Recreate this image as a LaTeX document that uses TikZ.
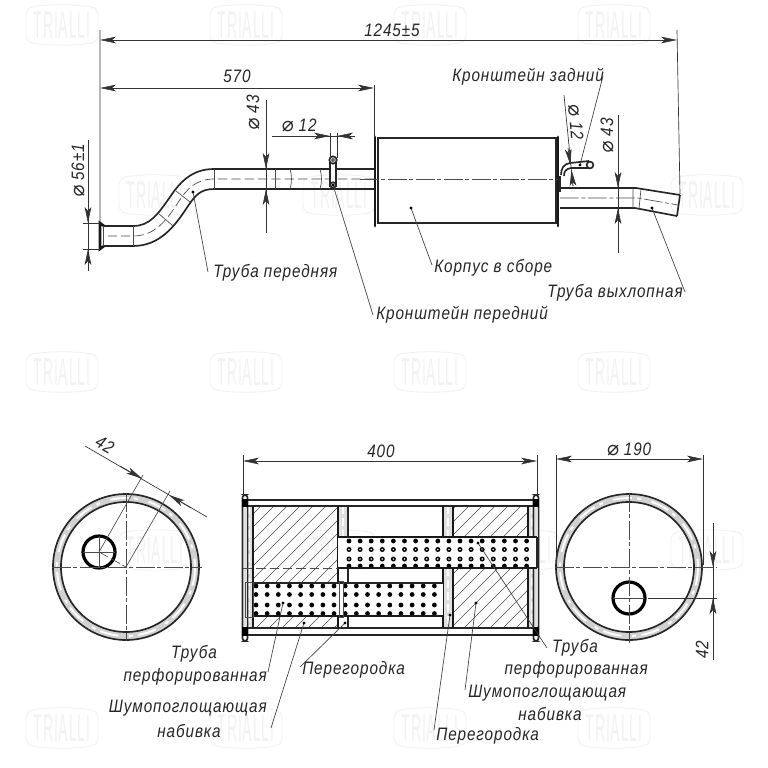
\documentclass[tikz,border=0pt]{standalone}
\usepackage{fontspec}
\setmainfont{Liberation Sans}[LetterSpace=5,FakeStretch=0.85]
\newfontfamily\symf{DejaVu Sans}
\usetikzlibrary{arrows.meta}
\newcommand{\dia}{{\fontsize{15}{15}\selectfont\symf\char"2300}}
\tikzset{
  thickl/.style={line width=1.25pt,black!85},
  thinl/.style={line width=.5pt,black!70},
  heavy/.style={line width=1.9pt,black!90},
  cline/.style={line width=.5pt,black!70,dash pattern=on 14pt off 2pt on 3pt off 2pt},
  dashl/.style={line width=.5pt,black!70,dash pattern=on 7pt off 3pt},
  dimln/.style={line width=.5pt,black!80},
  tip/.style={-{Stealth[length=12pt,width=5pt,inset=3pt]}},
  tipb/.style={{Stealth[length=12pt,width=5pt,inset=3pt]}-{Stealth[length=12pt,width=5pt,inset=3pt]}},
  lbl/.style={font=\itshape\fontsize{13.5}{15}\selectfont,text=black!85,inner sep=0pt},
  lead/.style={line width=.5pt,black!75},
  dotm/.style={fill=black,radius=1.7},
  wmtxt/.style={font=\fontsize{20}{20}\selectfont,text=black!5,xscale=.62,yscale=1.45,inner sep=0pt},
  hatchl/.style={line width=.45pt,black!70},
}
\begin{document}
\begin{tikzpicture}[x=.75pt,y=-.75pt]
\useasboundingbox (0,0) rectangle (768,768);
\fill[white] (0,0) rectangle (768,768);
% watermarks
\foreach \wx/\wy [count=\wi] in {62/25,246/25,430/25,614/25,155/195,339/195,523/195,707/195,62/372,246/372,430/372,614/372,155/550,339/550,523/550,707/550,62/728,246/728,430/728,614/728}{
  \node[wmtxt] (wm\wi) at (\wx,\wy) {TRIALLI};
  \draw[black!5,line width=.7pt,rounded corners=5pt] (\wx-36,\wy-17) .. controls (\wx-12,\wy-21) and (\wx+12,\wy-21) .. (\wx+36,\wy-17) -- (\wx+36,\wy+17) .. controls (\wx+12,\wy+21) and (\wx-12,\wy+21) .. (\wx-36,\wy+17) -- cycle;
}
% ---------- top view ----------
% front pipe
\draw[thickl] (374,169) -- (214,169) .. controls (192,169) and (180,182) .. (170,197) .. controls (158,214) and (150,226) .. (133,226) -- (103,226);
\draw[thickl] (374,189) -- (214,189) .. controls (200,189) and (195,196) .. (188,206) .. controls (175,226) and (160,246) .. (133,246) -- (103,246);
\draw[dashl] (374,179) -- (214,179) .. controls (196,179) and (187,189) .. (179,201) .. controls (167,220) and (155,236) .. (133,236) -- (103,236);
\draw[heavy] (104,226) -- (100,223) -- (100,249) -- (104,246);
\draw[thinl] (103,226) -- (103,246);
\foreach \tx in {214,275}{\draw[thinl] (\tx,169) -- (\tx,189);}
\draw[thinl] (133,226) -- (133,246);
\draw[thinl] (176,191) -- (190,202) (158,213) -- (173,226);
\draw[thinl] (290,169) .. controls (292,175) and (292,183) .. (290,189);
\draw[thinl] (320,169) .. controls (322,175) and (322,183) .. (320,189);
% front bracket
\draw[thickl,fill=white] (330,162) rectangle (336,186);
\draw[thickl,fill=white] (333,160) circle (3.7);
\fill[black!60] (333,160) circle (2);
\draw[thickl,fill=white] (333,185) circle (2.8);
% body
\draw[thickl,fill=white] (378,138) rectangle (556,223);
\draw[heavy,line width=2.2pt,line cap=round] (375,137) -- (375,226);
\draw[heavy,line width=2.2pt,line cap=round] (558,137) -- (558,226);
\draw[cline] (360,179) -- (558,179);
% rear pipe
\draw[thickl] (560,188) -- (636,188) -- (680,195);
\draw[thickl] (560,208) -- (635,208) -- (677,216);
\draw[thickl] (680,195) -- (677,216);
\draw[cline] (560,198) -- (638,198) -- (678,205);
\draw[thinl] (633,188) -- (633,208) (641,189) -- (639,209);
% rear bracket
\draw[thickl] (561,175) .. controls (561,168) and (564,164) .. (570,163) -- (589,161);
\draw[thickl] (564,176) .. controls (564,171) and (566,169) .. (571,168) -- (589,168);
\draw[thickl,fill=white] (590,165) circle (3.4);
\draw[thickl] (560,176) -- (560,192);
% dimensions top
\coordinate (e1a) at (100,30); \coordinate (e1b) at (100,222);
\coordinate (e2a) at (677,30); \coordinate (e2b) at (680,194);
\draw[dimln] (e1a) -- (e1b) (e2a) -- (e2b);
\coordinate (d1a) at (100,40); \coordinate (d1b) at (677,40);
\draw[dimln,tipb] (d1a) -- (d1b);
\node[lbl] (t1245) at (392,30) {1245±5};
\coordinate (d2a) at (100,88); \coordinate (d2b) at (374,88);
\draw[dimln,tipb] (d2a) -- (d2b);
\draw[dimln] (374,85) -- (374,136);
\node[lbl] (t570) at (237,76) {570};
% dia 43 front
\draw[dimln] (266,100) -- (266,233);
\draw[dimln,tip] (266,145) -- (266,169);
\draw[dimln,tip] (266,213) -- (266,189);
\node[lbl,rotate=90] (t43a) at (253,113) {\dia\ 43};
% dia 12 front
\draw[dimln] (272,136) -- (353,136);
\draw[dimln] (330,133) -- (330,158) (337,133) -- (337,158);
\draw[dimln,tip] (312,136) -- (330,136);
\draw[dimln,tip] (355,136) -- (337,136);
\node[lbl] (t12a) at (299,125) {\dia\ 12};
% dia 56
\draw[dimln] (88,140) -- (88,270);
\draw[dimln] (83,223) -- (100,223) (83,249) -- (100,249);
\draw[dimln,tip] (88,201) -- (88,223);
\draw[dimln,tip] (88,271) -- (88,249);
\node[lbl,rotate=90] (t56) at (78,171) {\dia\ 56±1};
% dia 43 rear
\draw[dimln] (618,115) -- (618,253);
\draw[dimln,tip] (618,166) -- (618,188);
\draw[dimln,tip] (618,230) -- (618,208);
\node[lbl,rotate=90] (t43b) at (607,136) {\dia\ 43};
% dia 12 rear
\draw[dimln] (564,95) -- (573,186);
\draw[dimln,tip] (568,148) -- (570.5,165);
\draw[dimln,tip] (573,186) -- (571.5,170);
\node[lbl,rotate=-86] (t12b) at (576,122) {\dia\ 12};
% labels top
\node[lbl,anchor=west] (lz) at (452,77) {Кронштейн задний};
\node[lbl,anchor=west] (lp) at (376,315) {Кронштейн передний};
\node[lbl,anchor=west] (lf) at (213,273) {Труба передняя};
\node[lbl,anchor=west] (lk) at (434,268) {Корпус в сборе};
\node[lbl,anchor=west] (lv) at (547,293) {Труба выхлопная};
\coordinate (dz) at (580,165); \coordinate (ez) at (603,76);
\coordinate (dp) at (333,185); \coordinate (ep) at (373,315);
\coordinate (df) at (193,192); \coordinate (ef) at (208,272);
\coordinate (dk) at (411,208); \coordinate (ek) at (432,265);
\coordinate (dv) at (652,208); \coordinate (ev) at (685,292);
\foreach \a/\b in {dz/ez,dp/ep,df/ef,dk/ek,dv/ev}{
  \draw[lead] (\a) -- (\b);
  \fill[dotm] (\a) circle[radius=1.7];
}
% ---------- section ----------
% hatching
\begin{scope}
\clip (253,506) rectangle (338,583) (253,616) rectangle (338,628) (453,506) rectangle (528,537) (453,568) rectangle (528,628);
\foreach \s in {120,133,...,540}{\draw[hatchl] (\s,634) -- (\s+140,494);}
\end{scope}
% end columns
\fill[black!12] (245,506) rectangle (252,628) (529,506) rectangle (535,628) (339,506) rectangle (347,537) (444,506) rectangle (452,537) (444,568) rectangle (452,628);
\draw[white,line width=1pt,dash pattern=on 6pt off 3pt] (249,506) -- (249,628) (532,506) -- (532,628) (343,506) -- (343,537) (448,506) -- (448,537) (448,568) -- (448,628);
% shell
\draw[thickl] (245,500) -- (536,500) (245,506) -- (536,506) (245,628) -- (536,628) (245,635) -- (536,635);
\draw[heavy,line width=1.9pt] (253,506) -- (253,628) (528,506) -- (528,628);
\draw[heavy,line width=1.9pt] (338,506) -- (338,628) (443,506) -- (443,628) (453,506) -- (453,537) (453,568) -- (453,628);
\draw[thickl] (348,506) -- (348,537) (348,568) -- (348,583) (348,616) -- (348,628);
\draw[thinl] (243,506) -- (243,628) (537,506) -- (537,628);
% flange caps
\foreach \cx in {245,536}{
  \draw[thickl,fill=white,rounded corners=2pt] (\cx-2.5,495) rectangle (\cx+2.5,641);
  \fill[black] (\cx-3,499) rectangle (\cx+3,507);
  \fill[black] (\cx-3,627) rectangle (\cx+3,636);
  \fill[black!12] (\cx-1.5,508) rectangle (\cx+1.5,626);
}
% upper tube
\fill[white] (338,537) rectangle (537,568);
\begin{scope}
\clip (338,537) rectangle (537,568);
\foreach \i in {0,...,16}{
  \pgfmathsetmacro{\dx}{349+11.1*\i}
  \fill (\dx,541) circle (2.4);
  \fill (\dx,566) circle (2.4);
  \fill[even odd rule] (\dx,549.5) circle (2.5) (\dx,549.5) circle (1.1);
  \fill[even odd rule] (\dx,559) circle (2.5) (\dx,559) circle (1.1);
}
\end{scope}
\draw[heavy] (338,537) -- (537,537) (338,568) -- (537,568);
\draw[thickl] (537,537) -- (537,568);
\draw[dashl] (243,568) -- (338,568);
% lower tube
\fill[white] (254,584) rectangle (443,616);
\begin{scope}
\clip (254,583) rectangle (443,616);
\foreach \i in {0,...,16}{
  \pgfmathsetmacro{\dx}{256+11.15*\i}
  \foreach \dy in {586,594.5,605,613.5}{\fill (\dx,\dy) circle (2.4);}
}
\end{scope}
\fill[white] (339,582) rectangle (343,617);
\draw[thickl] (253,583) -- (443,583);
\draw[heavy] (253,616) -- (443,616);
\draw[thinl] (245,582) rectangle (253,617);
\draw[thinl] (339,581) rectangle (343,617);
% section dims
\draw[dimln] (243,455) -- (243,495) (537,455) -- (537,495);
\coordinate (d4a) at (243,461); \coordinate (d4b) at (537,461);
\draw[dimln,tipb] (d4a) -- (d4b);
\node[lbl] (t400) at (381,451) {400};
% section labels
\node[lbl] (a1) at (194,654) {Труба};
\node[lbl,anchor=east] (a2) at (267,677) {перфорированная};
\node[lbl,anchor=east] (a3) at (267,708) {Шумопоглощающая};
\node[lbl] (a4) at (189,731) {набивка};
\node[lbl,anchor=west] (a5) at (302,670) {Перегородка};
\node[lbl] (b1) at (575,648) {Труба};
\node[lbl,anchor=east] (b2) at (648,670) {перфорированная};
\node[lbl,anchor=west] (b3) at (468,693) {Шумопоглощающая};
\node[lbl] (b4) at (550,714) {набивка};
\node[lbl,anchor=west] (b5) at (436,736) {Перегородка};
\coordinate (s1) at (283,603); \coordinate (s1e) at (268,672);
\coordinate (s2) at (304,623); \coordinate (s2e) at (271,728);
\coordinate (s3) at (345,623); \coordinate (s3e) at (300,667);
\coordinate (s4) at (450,615); \coordinate (s4e) at (434,730);
\coordinate (s5) at (476,603); \coordinate (s5e) at (465,690);
\coordinate (s6) at (478,543); \coordinate (s6e) at (547,648);
\foreach \a/\b in {s1/s1e,s2/s2e,s3/s3e,s4/s4e,s5/s5e,s6/s6e}{
  \draw[lead] (\a) -- (\b);
  \fill[dotm] (\a) circle[radius=1.7];
}
% ---------- left end view ----------
\coordinate (cl) at (126,567);
\coordinate (hl) at (99,552);
\fill[black!18,even odd rule] (cl) circle (73) (cl) circle (65);
\draw[white,line width=1.4pt,dash pattern=on 14pt off 4pt on 3pt off 8pt] (cl) circle (69);
\draw[thickl] (cl) circle (73);
\draw[thickl] (cl) circle (65);
\draw[line width=2.4pt,black] (hl) circle (16);
\draw[cline] (52,567) -- (202,567);
\draw[cline] (126,493) -- (126,641);
\draw[thinl] (83,552) -- (115,552) (99,536) -- (99,568);
\draw[thinl,dash pattern=on 8pt off 2pt] (hl) -- (cl);
\coordinate (k1) at (143,475); \coordinate (k2) at (170,491);
\draw[thinl] (hl) -- (k1) (cl) -- (k2);
\draw[dimln] (85,446) -- (207,517);
\draw[dimln,tip] (120,466) -- (142,478.5);
\draw[dimln,tip] (191,508) -- (169,495);
\node[lbl,rotate=-30] (t42a) at (105,445) {42};
% ---------- right end view ----------
\coordinate (cr) at (629,567);
\coordinate (hr) at (629,598);
\fill[black!18,even odd rule] (cr) circle (73) (cr) circle (65);
\draw[white,line width=1.4pt,dash pattern=on 14pt off 4pt on 3pt off 8pt] (cr) circle (69);
\draw[thickl] (cr) circle (73);
\draw[thickl] (cr) circle (65);
\draw[line width=2.4pt,black] (hr) circle (16);
\draw[cline] (555,567) -- (717,567);
\draw[cline] (629,493) -- (629,643);
\draw[thinl] (613,598) -- (645,598);
\draw[dimln] (648,598) -- (717,598);
\draw[dimln] (556,455) -- (556,565) (703,455) -- (703,565);
\coordinate (d5a) at (556,459); \coordinate (d5b) at (703,459);
\draw[dimln,tipb] (d5a) -- (d5b);
\node[lbl] (t190) at (629,449) {\dia\ 190};
\draw[dimln] (713,523) -- (713,660);
\draw[dimln,tip] (713,545) -- (713,567);
\draw[dimln,tip] (713,620) -- (713,598);
\node[lbl,rotate=90] (t42b) at (702,650) {42};
\end{tikzpicture}
\end{document}
